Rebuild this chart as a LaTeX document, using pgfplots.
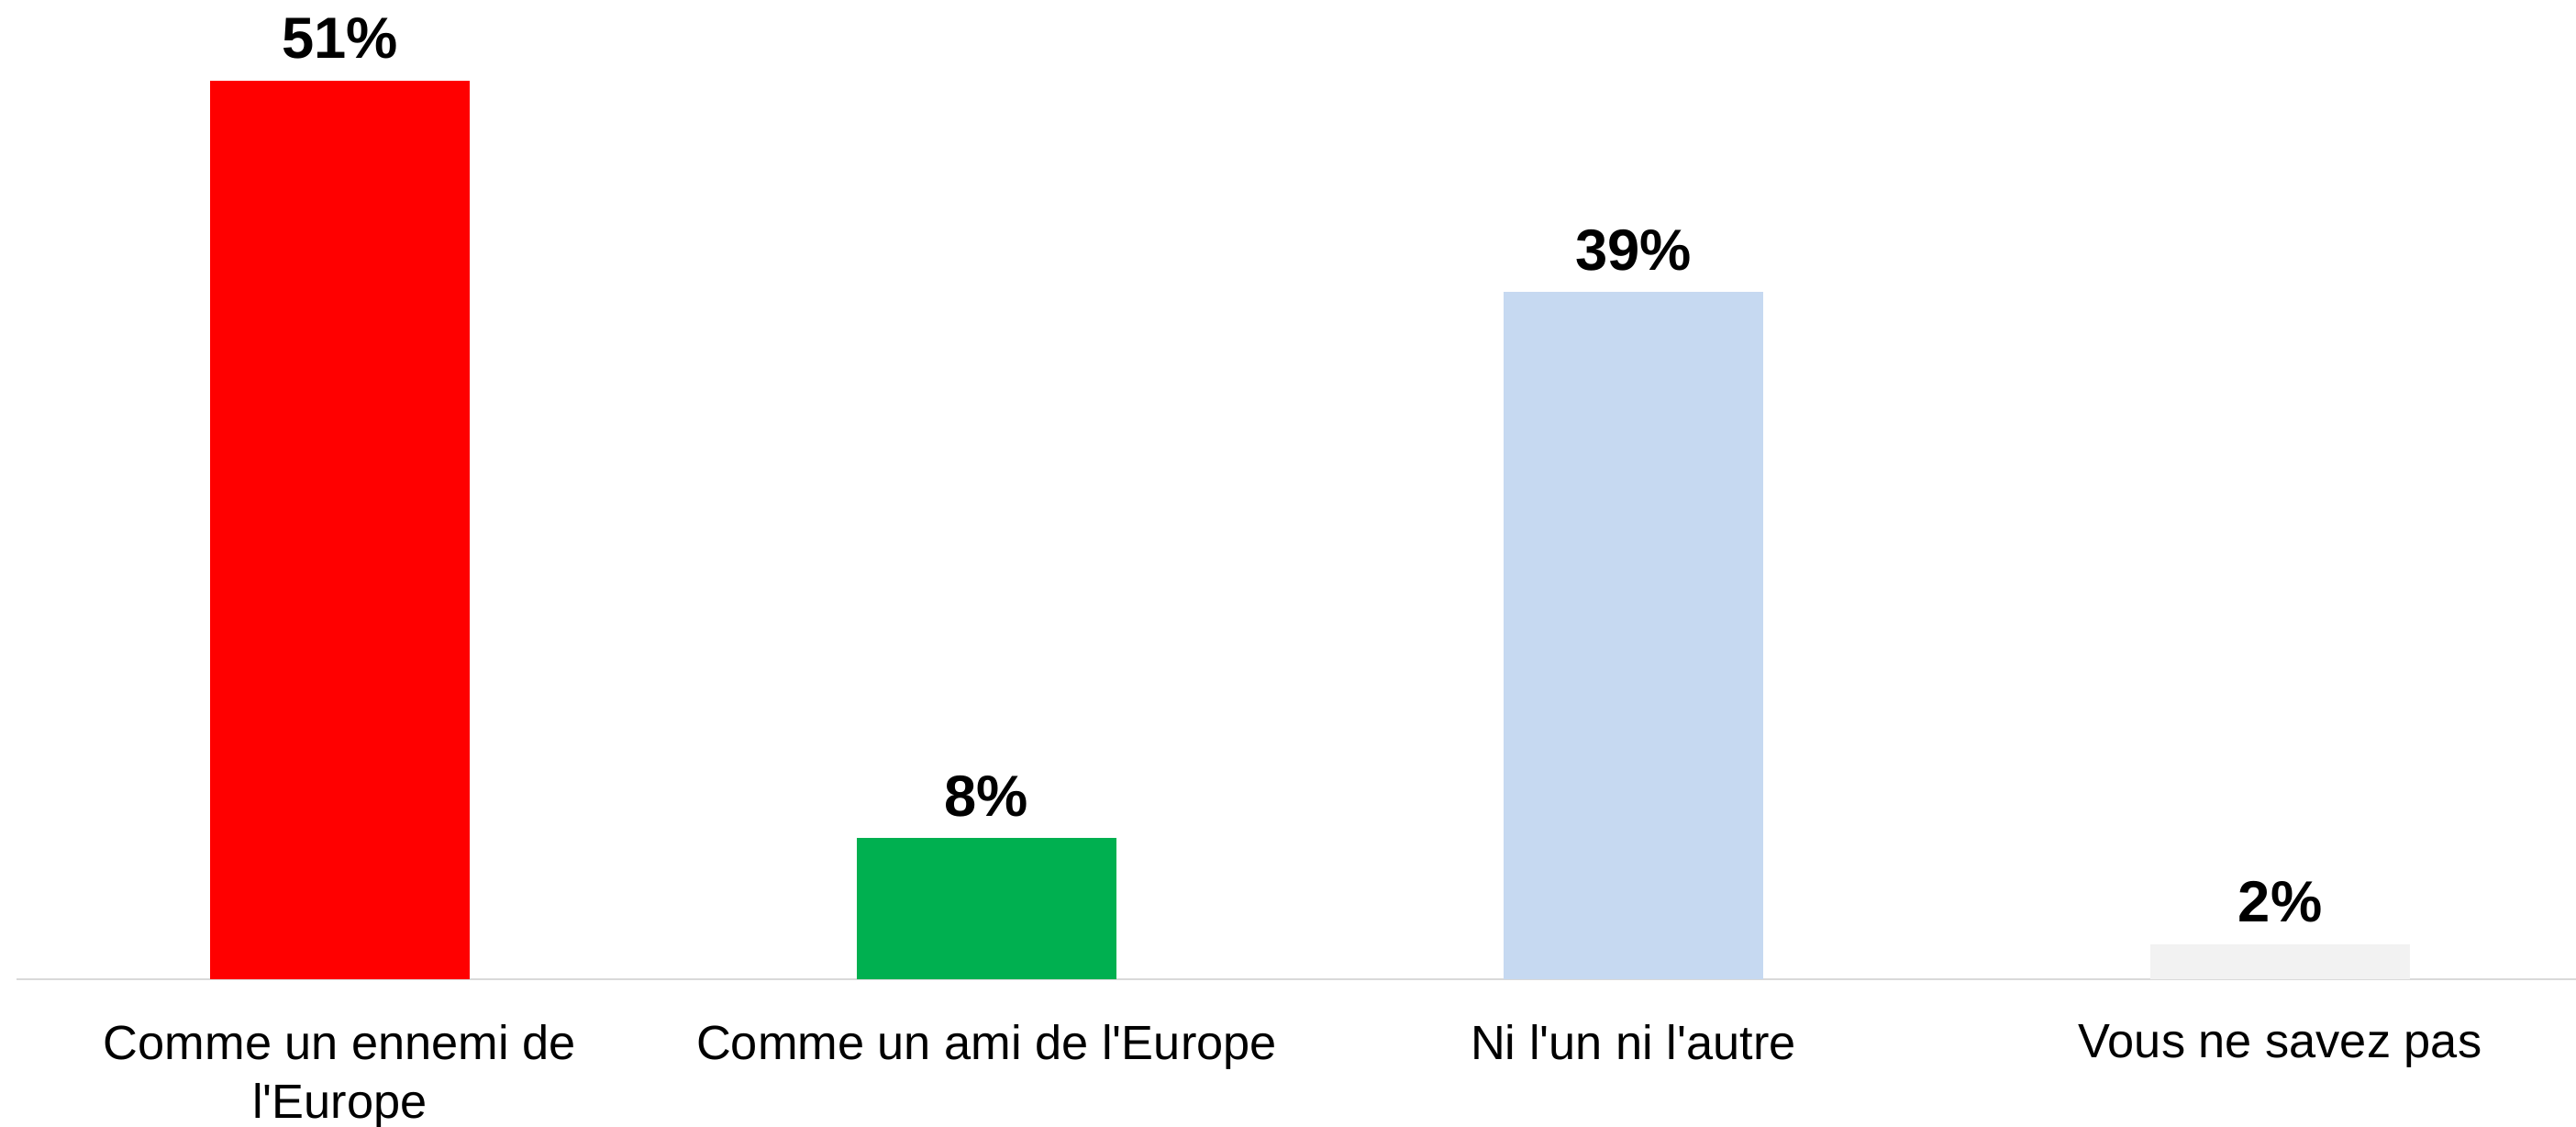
\documentclass[border=0pt]{standalone}
\usepackage{fontspec}
\setmainfont{Liberation Sans}[Ligatures=TeXOff]
\usepackage{pgfplots}
\pgfplotsset{compat=1.18}
\definecolor{cred}{HTML}{FF0000}
\definecolor{cgreen}{HTML}{00B050}
\definecolor{cblue}{HTML}{C6D9F1}
\definecolor{cgrey}{HTML}{F2F2F2}
\definecolor{axisgrey}{HTML}{D9D9D9}
\begin{document}
\begin{tikzpicture}
\useasboundingbox (0,0) rectangle (28.08cm,12.28cm);
\begin{axis}[
  at={(0.18cm,1.61cm)}, anchor=south west,
  scale only axis, width=27.9cm, height=10.56cm,
  xmin=-0.5, xmax=3.4574, ymin=0, ymax=55,
  axis x line=bottom, axis y line=none,
  x axis line style={-, draw=axisgrey, line width=0.7pt},
  xtick={0,1,2,3},
  xticklabels={{Comme un ennemi de\\l'Europe},{Comme un ami de l'Europe},{Ni l'un ni l'autre},{Vous ne savez pas}},
  xticklabel style={align=center, font=\fontsize{14.9}{18.2}\selectfont, inner sep=0pt, anchor=north, yshift=-0.49cm},
  major tick length=0pt,
  ytick=\empty,
  /pgf/number format/assume math mode=true,
  ybar, bar width=2.83cm,
  nodes near coords={\pgfmathprintnumber{\pgfplotspointmeta}\%},
  nodes near coords style={font=\bfseries\fontsize{18}{21}\selectfont, anchor=base, inner sep=0pt, yshift=0.24cm, text=black},
  clip=false,
]
\addplot+[bar shift=0pt, fill=cred, draw=none] coordinates {(0,51)};
\addplot+[bar shift=0pt, fill=cgreen, draw=none] coordinates {(1,8)};
\addplot+[bar shift=0pt, fill=cblue, draw=none] coordinates {(2,39)};
\addplot+[bar shift=0pt, fill=cgrey, draw=none] coordinates {(3,2)};
\end{axis}
\end{tikzpicture}
\end{document}
